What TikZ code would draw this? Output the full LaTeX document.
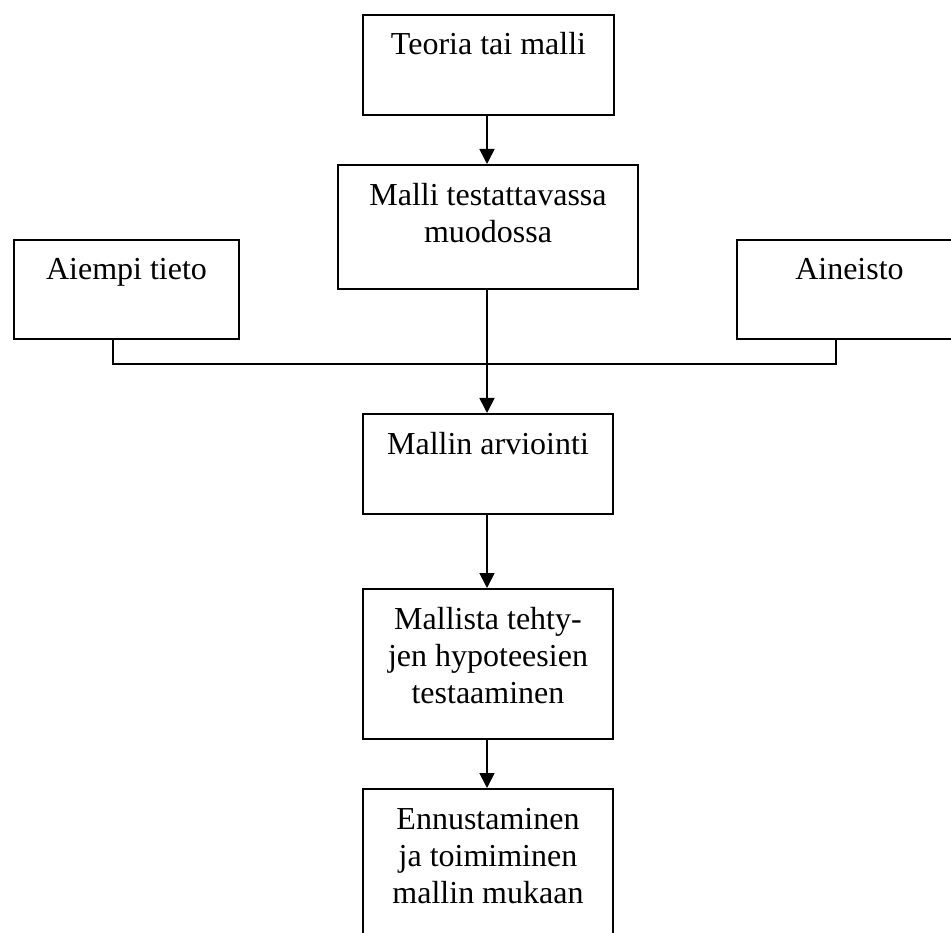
\documentclass[tikz,border=0pt]{standalone}
\usepackage{fontspec}
\setmainfont{Liberation Serif}
\usetikzlibrary{arrows.meta}
\tikzset{
  box/.style={draw, line width=2pt, inner sep=0pt, anchor=north west},
  boxtext/.style={anchor=base, inner sep=0pt, font=\fontsize{32}{37}\selectfont},
  conn/.style={line width=1.7pt},
  arr/.style={conn, -{Triangle[width=15pt,length=15pt]}}
}
\newcommand{\boxlines}[1]{\parbox[t]{290pt}{\centering #1}}
\begin{document}
\begin{tikzpicture}[x=1pt,y=-1pt]
\clip (0,0) rectangle (951,933);
\fill[white] (0,0) rectangle (951,933);
% boxes
\node[box, minimum width=251pt, minimum height=100pt] (b1) at (362,14) {};
\node[box, minimum width=300pt, minimum height=124pt] (b2) at (337,164) {};
\node[box, minimum width=225pt, minimum height=99pt] (b3) at (13,239) {};
\node[box, minimum width=225pt, minimum height=99pt] (b4) at (736,239) {};
\node[box, minimum width=250pt, minimum height=100pt] (b5) at (362,413) {};
\node[box, minimum width=250pt, minimum height=150pt] (b6) at (362,588) {};
\node[box, minimum width=250pt, minimum height=180pt] (b7) at (362,788) {};
% texts
\node[boxtext] (t1) at ([yshift=-41pt]b1.north) {\boxlines{Teoria tai malli}};
\node[boxtext] (t2) at ([yshift=-42pt]b2.north) {\boxlines{Malli testattavassa\\muodossa}};
\node[boxtext] (t3) at ([yshift=-41pt]b3.north) {\boxlines{Aiempi tieto}};
\node[boxtext] (t4) at ([yshift=-41pt]b4.north) {\boxlines{Aineisto}};
\node[boxtext] (t5) at ([yshift=-41pt]b5.north) {\boxlines{Mallin arviointi}};
\node[boxtext] (t6) at ([yshift=-41pt]b6.north) {\boxlines{Mallista tehty-\\jen hypoteesien\\testaaminen}};
\node[boxtext] (t7) at ([yshift=-41pt]b7.north) {\boxlines{Ennustaminen\\ja toimiminen\\mallin mukaan}};
% connectors
\coordinate (aL) at (113,338);
\coordinate (aR) at (836,338);
\coordinate (j) at (487,364);
\draw[arr] (b1.south -| j) -- (b2.north -| j);
\draw[arr] (b2.south -| j) -- (b5.north -| j);
\draw[conn] (aL) |- (j) -| (aR);
\draw[arr] (b5.south -| j) -- (b6.north -| j);
\draw[arr] (b6.south -| j) -- (b7.north -| j);
\end{tikzpicture}
\end{document}
